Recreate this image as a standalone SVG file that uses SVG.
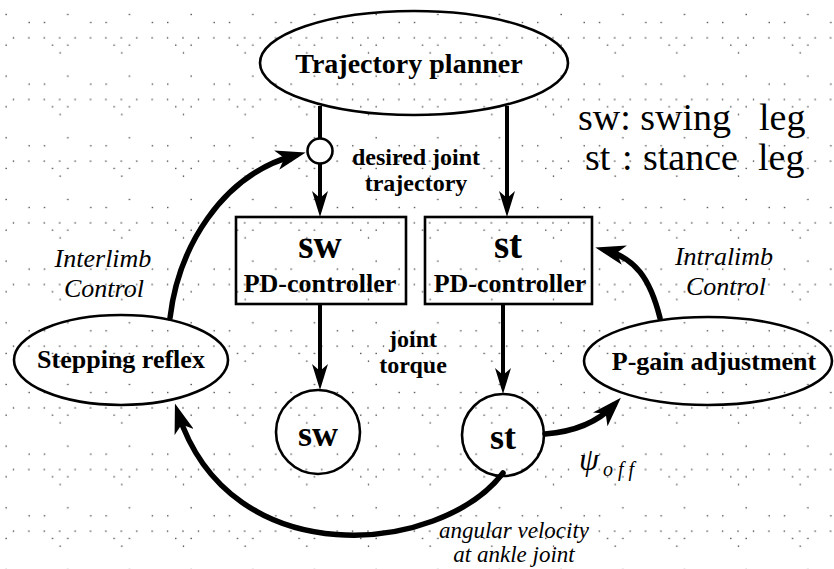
<svg xmlns="http://www.w3.org/2000/svg" width="834" height="569" viewBox="0 0 834 569">
  <style>
    .shape { fill: none; stroke: #000; stroke-width: 2.6; }
    .link { fill: none; stroke: #000; stroke-width: 4; }
    .loop { fill: none; stroke: #000; stroke-width: 5.5; stroke-linecap: round; }
    .lbl { font-family: "Liberation Serif", "DejaVu Serif", serif; font-weight: bold; font-size: 26px; fill: #000; text-anchor: middle; }
    .big { font-family: "Liberation Serif", "DejaVu Serif", serif; font-weight: bold; font-size: 39px; fill: #000; text-anchor: middle; }
    .note { font-family: "Liberation Serif", "DejaVu Serif", serif; font-style: italic; font-weight: normal; font-size: 26px; fill: #000; text-anchor: middle; }
    .legend { font-family: "Liberation Serif", "DejaVu Serif", serif; font-weight: normal; font-size: 38px; fill: #000; }
    .psi { font-family: "Liberation Serif", "DejaVu Serif", serif; font-style: italic; fill: #000; }
  </style>
  <defs>
    <!-- fine dot screen behind the whole drawing -->
    <pattern id="dots" patternUnits="userSpaceOnUse" width="61.67" height="61.67">
      <g fill="#333">
        <rect x="5.5" y="13.8" width="1.3" height="1.3"/>
        <rect x="28.5" y="21.8" width="1.3" height="1.3"/>
        <rect x="43.8" y="21.8" width="1.3" height="1.3"/>
        <rect x="12.8" y="37.2" width="1.3" height="1.3"/>
        <rect x="28.2" y="37.2" width="1.3" height="1.3"/>
        <rect x="43.6" y="37.2" width="1.3" height="1.3"/>
        <rect x="59.0" y="37.2" width="1.3" height="1.3"/>
        <rect x="51.8" y="44.5" width="1.3" height="1.3"/>
        <rect x="5.5" y="44.5" width="1.3" height="1.3"/>
        <rect x="59.5" y="52.2" width="1.3" height="1.3"/>
      </g>
    </pattern>
    <marker id="head" viewBox="0 0 26 16" refX="16" refY="8" markerWidth="26" markerHeight="16" markerUnits="userSpaceOnUse" orient="auto">
      <path d="M26,8 L0,0 L7,8 L0,16 Z" fill="#000"/>
    </marker>
    <marker id="headBig" viewBox="0 0 30 20" refX="20" refY="10" markerWidth="30" markerHeight="20" markerUnits="userSpaceOnUse" orient="auto">
      <path d="M30,10 L0,0 L8,10 L0,20 Z" fill="#000"/>
    </marker>
  </defs>

  <rect width="834" height="569" fill="#fff"/>
  <rect width="834" height="569" fill="url(#dots)"/>

  <!-- connectors -->
  <g id="connectors">
    <line class="link" x1="320" y1="106" x2="320" y2="138"/>
    <line class="link" x1="320" y1="163" x2="320" y2="207" marker-end="url(#head)"/>
    <line class="link" x1="507" y1="106" x2="507" y2="207" marker-end="url(#head)"/>
    <line class="link" x1="320" y1="304" x2="320" y2="380" marker-end="url(#head)"/>
    <line class="link" x1="503" y1="304" x2="503" y2="384" marker-end="url(#head)"/>
    <!-- interlimb feedback -->
    <path class="loop" d="M170,318 C178,250 220,175 296,155" marker-end="url(#headBig)"/>
    <!-- intralimb feedback -->
    <path class="loop" d="M660,318 C650,278 635,258 605,250" marker-end="url(#headBig)"/>
    <!-- offset angle to gain adjustment -->
    <path class="loop" d="M545,434 C570,432 595,425 614,405" marker-end="url(#headBig)"/>
    <!-- ankle angular velocity to stepping reflex -->
    <path class="loop" d="M503,473 C440,555 230,575 178,413" marker-end="url(#headBig)"/>
  </g>

  <g id="planner">
    <ellipse class="shape" cx="414" cy="63" rx="154" ry="52"/>
    <text class="lbl" x="409" y="73" style="font-size:28px">Trajectory planner</text>
  </g>

  <g id="junction">
    <circle class="shape" cx="320" cy="151" r="12.5" style="fill:#fff"/>
  </g>

  <g id="desired-label">
    <text class="lbl" x="416" y="165" style="font-size:24px">desired joint</text>
    <text class="lbl" x="416" y="191" style="font-size:24px">trajectory</text>
  </g>

  <g id="legend">
    <text class="legend" x="578" y="130">sw: swing</text>
    <text class="legend" x="759" y="130">leg</text>
    <text class="legend" x="585" y="170">st</text>
    <text class="legend" x="622" y="170">:</text>
    <text class="legend" x="643" y="170">stance</text>
    <text class="legend" x="758" y="170">leg</text>
  </g>

  <g id="sw-pd">
    <rect class="shape" x="236" y="217" width="170" height="87"/>
    <text class="big" x="320" y="258">sw</text>
    <text class="lbl" x="320" y="292">PD-controller</text>
  </g>

  <g id="st-pd">
    <rect class="shape" x="425" y="217" width="167" height="87"/>
    <text class="big" x="508" y="258">st</text>
    <text class="lbl" x="510" y="292">PD-controller</text>
  </g>

  <g id="torque-label">
    <text class="lbl" x="413" y="347" style="font-size:24px">joint</text>
    <text class="lbl" x="413" y="373" style="font-size:24px">torque</text>
  </g>

  <g id="sw-leg">
    <circle class="shape" cx="318" cy="432" r="42"/>
    <text class="big" x="318" y="446" style="font-size:36px">sw</text>
  </g>

  <g id="st-leg">
    <circle class="shape" cx="503" cy="435" r="41"/>
    <text class="big" x="503" y="449" style="font-size:36px">st</text>
  </g>

  <g id="stepping-reflex">
    <ellipse class="shape" cx="121" cy="360" rx="107" ry="45"/>
    <text class="lbl" x="121" y="368">Stepping reflex</text>
  </g>

  <g id="p-gain">
    <ellipse class="shape" cx="708" cy="361" rx="124" ry="44"/>
    <text class="lbl" x="714" y="370">P-gain adjustment</text>
  </g>

  <g id="interlimb-label">
    <text class="note" x="103" y="267">Interlimb</text>
    <text class="note" x="104" y="297">Control</text>
  </g>

  <g id="intralimb-label">
    <text class="note" x="724" y="265">Intralimb</text>
    <text class="note" x="726" y="295">Control</text>
  </g>

  <g id="offset-label">
    <text class="psi" x="579" y="470" style="font-size:32px">ψ</text>
    <text class="psi" x="603" y="476" style="font-size:20px" letter-spacing="5">off</text>
  </g>

  <g id="velocity-label">
    <text class="note" x="514" y="538" style="font-size:23px">angular velocity</text>
    <text class="note" x="514" y="562" style="font-size:23px">at ankle joint</text>
  </g>
</svg>
